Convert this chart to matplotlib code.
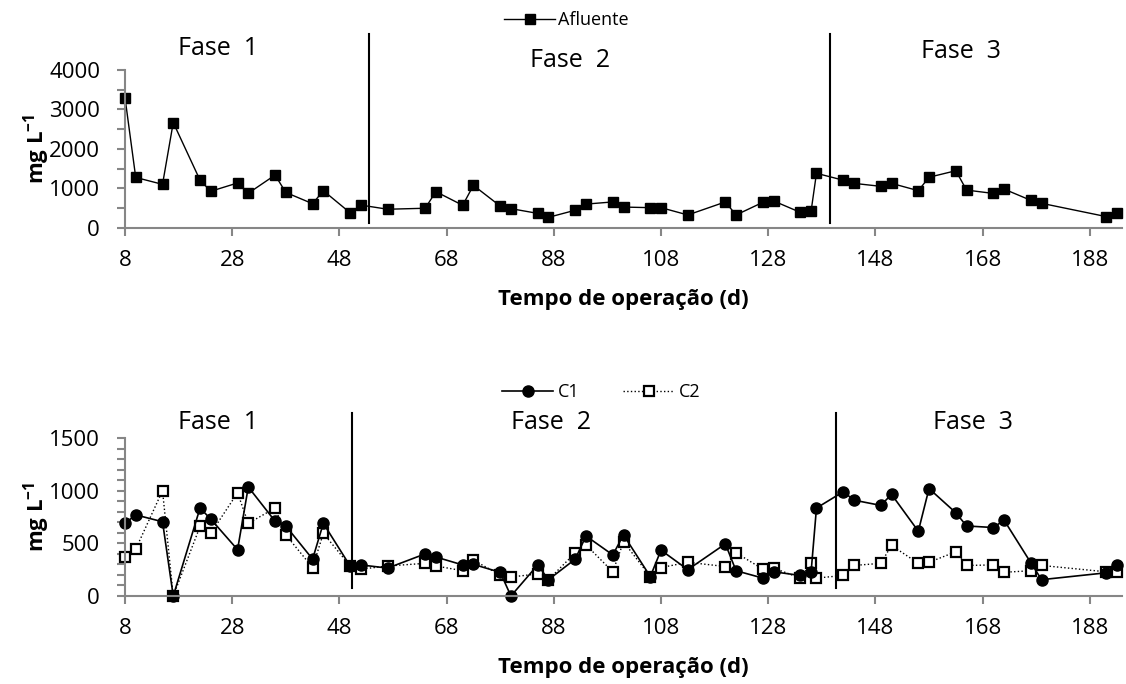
import numpy as np
import matplotlib.pyplot as plt
from matplotlib.ticker import MultipleLocator

plt.rcParams['font.family'] = ['Open Sans', 'DejaVu Sans']
plt.rcParams['mathtext.fontset'] = 'custom'
plt.rcParams['mathtext.rm'] = 'Open Sans'
plt.rcParams['mathtext.bf'] = 'Open Sans:bold'

# operation days (d)
dias = [8, 10, 15, 17, 22, 24, 29, 31, 36, 38, 43, 45, 50, 52, 57, 64, 66, 71, 73,
        78, 80, 85, 87, 92, 94, 99, 101, 106, 108, 113, 120, 122, 127, 129, 134,
        136, 137, 142, 144, 149, 151, 156, 158, 163, 165, 170, 172, 177, 179, 191, 193]

# influent (mg/L)
afluente = [3300, 1280, 1105, 2670, 1210, 930, 1140, 880, 1340, 900, 615, 945, 385,
            580, 475, 500, 920, 575, 1080, 555, 490, 370, 270, 450, 605, 660, 530,
            515, 515, 330, 660, 330, 650, 685, 395, 430, 1385, 1210, 1130, 1055,
            1130, 945, 1285, 1450, 960, 875, 985, 700, 625, 290, 370]

# effluents C1 and C2 (mg/L)
c1 = [690, 770, 705, 0, 835, 730, 440, 1035, 710, 665, 350, 690, 285, 295, 265, 400,
      370, 295, 300, 225, 0, 295, 155, 350, 570, 390, 580, 185, 435, 250, 495, 240,
      170, 230, 195, 230, 835, 990, 910, 860, 965, 615, 1020, 790, 665, 650, 720,
      315, 155, 220, 295]
c2 = [370, 445, 1000, 0, 660, 595, 980, 690, 835, 580, 270, 595, 285, 255, 285, 310,
      285, 240, 340, 200, 180, 210, 155, 410, 485, 230, 515, 185, 270, 320, 280, 410,
      255, 265, 170, 310, 170, 195, 290, 310, 480, 310, 320, 420, 290, 295, 225,
      240, 290, 230, 225]

# x tick positions (d)
xticks = [8, 28, 48, 68, 88, 108, 128, 148, 168, 188]

# phase boundaries (d)
limites_topo = [53.6, 139.5]
limites_base = [50.4, 140.6]
fases = ['Fase  1', 'Fase  2', 'Fase  3']

cinza = '#868686'

fig = plt.figure(figsize=(11.26, 6.84), dpi=100)
ax1 = fig.add_axes([125 / 1126, 1 - 228 / 684, 997 / 1126, 158 / 684])
ax2 = fig.add_axes([125 / 1126, 1 - 596 / 684, 997 / 1126, 158 / 684])


def estilo(ax, ymax, major, minor):
    ax.set_xlim(8, 194)
    ax.set_ylim(0, ymax)
    ax.set_xticks(xticks)
    ax.yaxis.set_major_locator(MultipleLocator(major))
    ax.yaxis.set_minor_locator(MultipleLocator(minor))
    for s in ['top', 'right']:
        ax.spines[s].set_visible(False)
    for s in ['left', 'bottom']:
        ax.spines[s].set_color(cinza)
        ax.spines[s].set_linewidth(1.5)
    ax.tick_params(axis='both', which='both', color=cinza, width=1.5, length=6,
                   labelsize=16, direction='out')
    ax.tick_params(axis='x', pad=10)
    ax.tick_params(axis='y', pad=12)
    ax.set_xlabel('Tempo de operação (d)', fontsize=16, fontweight='bold')
    ax.xaxis.set_label_coords(0.5, -71 / 158)
    ax.xaxis.label.set_va('center')
    ax.set_ylabel(r'mg L$^{\mathbf{-1}}$', fontsize=16, fontweight='bold')
    ax.yaxis.set_label_coords(-88 / 997, 0.5)
    ax.yaxis.label.set_va('center')


estilo(ax1, 4000, 1000, 500)
estilo(ax2, 1500, 500, 100)

ax1.plot(dias, afluente, color='black', lw=1, marker='s', ms=7.5,
         label='Afluente', clip_on=False)
ax1.legend(loc='center', bbox_to_anchor=(0.443, 1.316), frameon=False,
           fontsize=13, handlelength=2.8, handletextpad=0.2)

l2, = ax2.plot(dias, c2, color='black', lw=1, ls=':', marker='s', ms=7.5,
               mfc='white', mew=1.6, label='C2', clip_on=False)
l1, = ax2.plot(dias, c1, color='black', lw=1.2, marker='o', ms=8,
               label='C1', clip_on=False)
ax2.legend(handles=[l1, l2], loc='center', bbox_to_anchor=(0.478, 1.29),
           frameon=False, fontsize=13, ncol=2, handlelength=2.8,
           handletextpad=0.3, columnspacing=2.4)

for x in limites_topo:
    ax1.axvline(x, ymin=0.03, ymax=1.23, color='black', lw=1.5, clip_on=False)
for x in limites_base:
    ax2.axvline(x, ymin=0.05, ymax=1.16, color='black', lw=1.5, clip_on=False)

for txt, (x, y) in zip(fases, [(0.093, 1.139), (0.446, 1.063), (0.839, 1.114)]):
    ax1.text(x, y, txt, transform=ax1.transAxes, ha='center', va='center', fontsize=18)
for txt, (x, y) in zip(fases, [(0.093, 1.101), (0.427, 1.101), (0.851, 1.101)]):
    ax2.text(x, y, txt, transform=ax2.transAxes, ha='center', va='center', fontsize=18)

plt.savefig('out.png', dpi=100)
